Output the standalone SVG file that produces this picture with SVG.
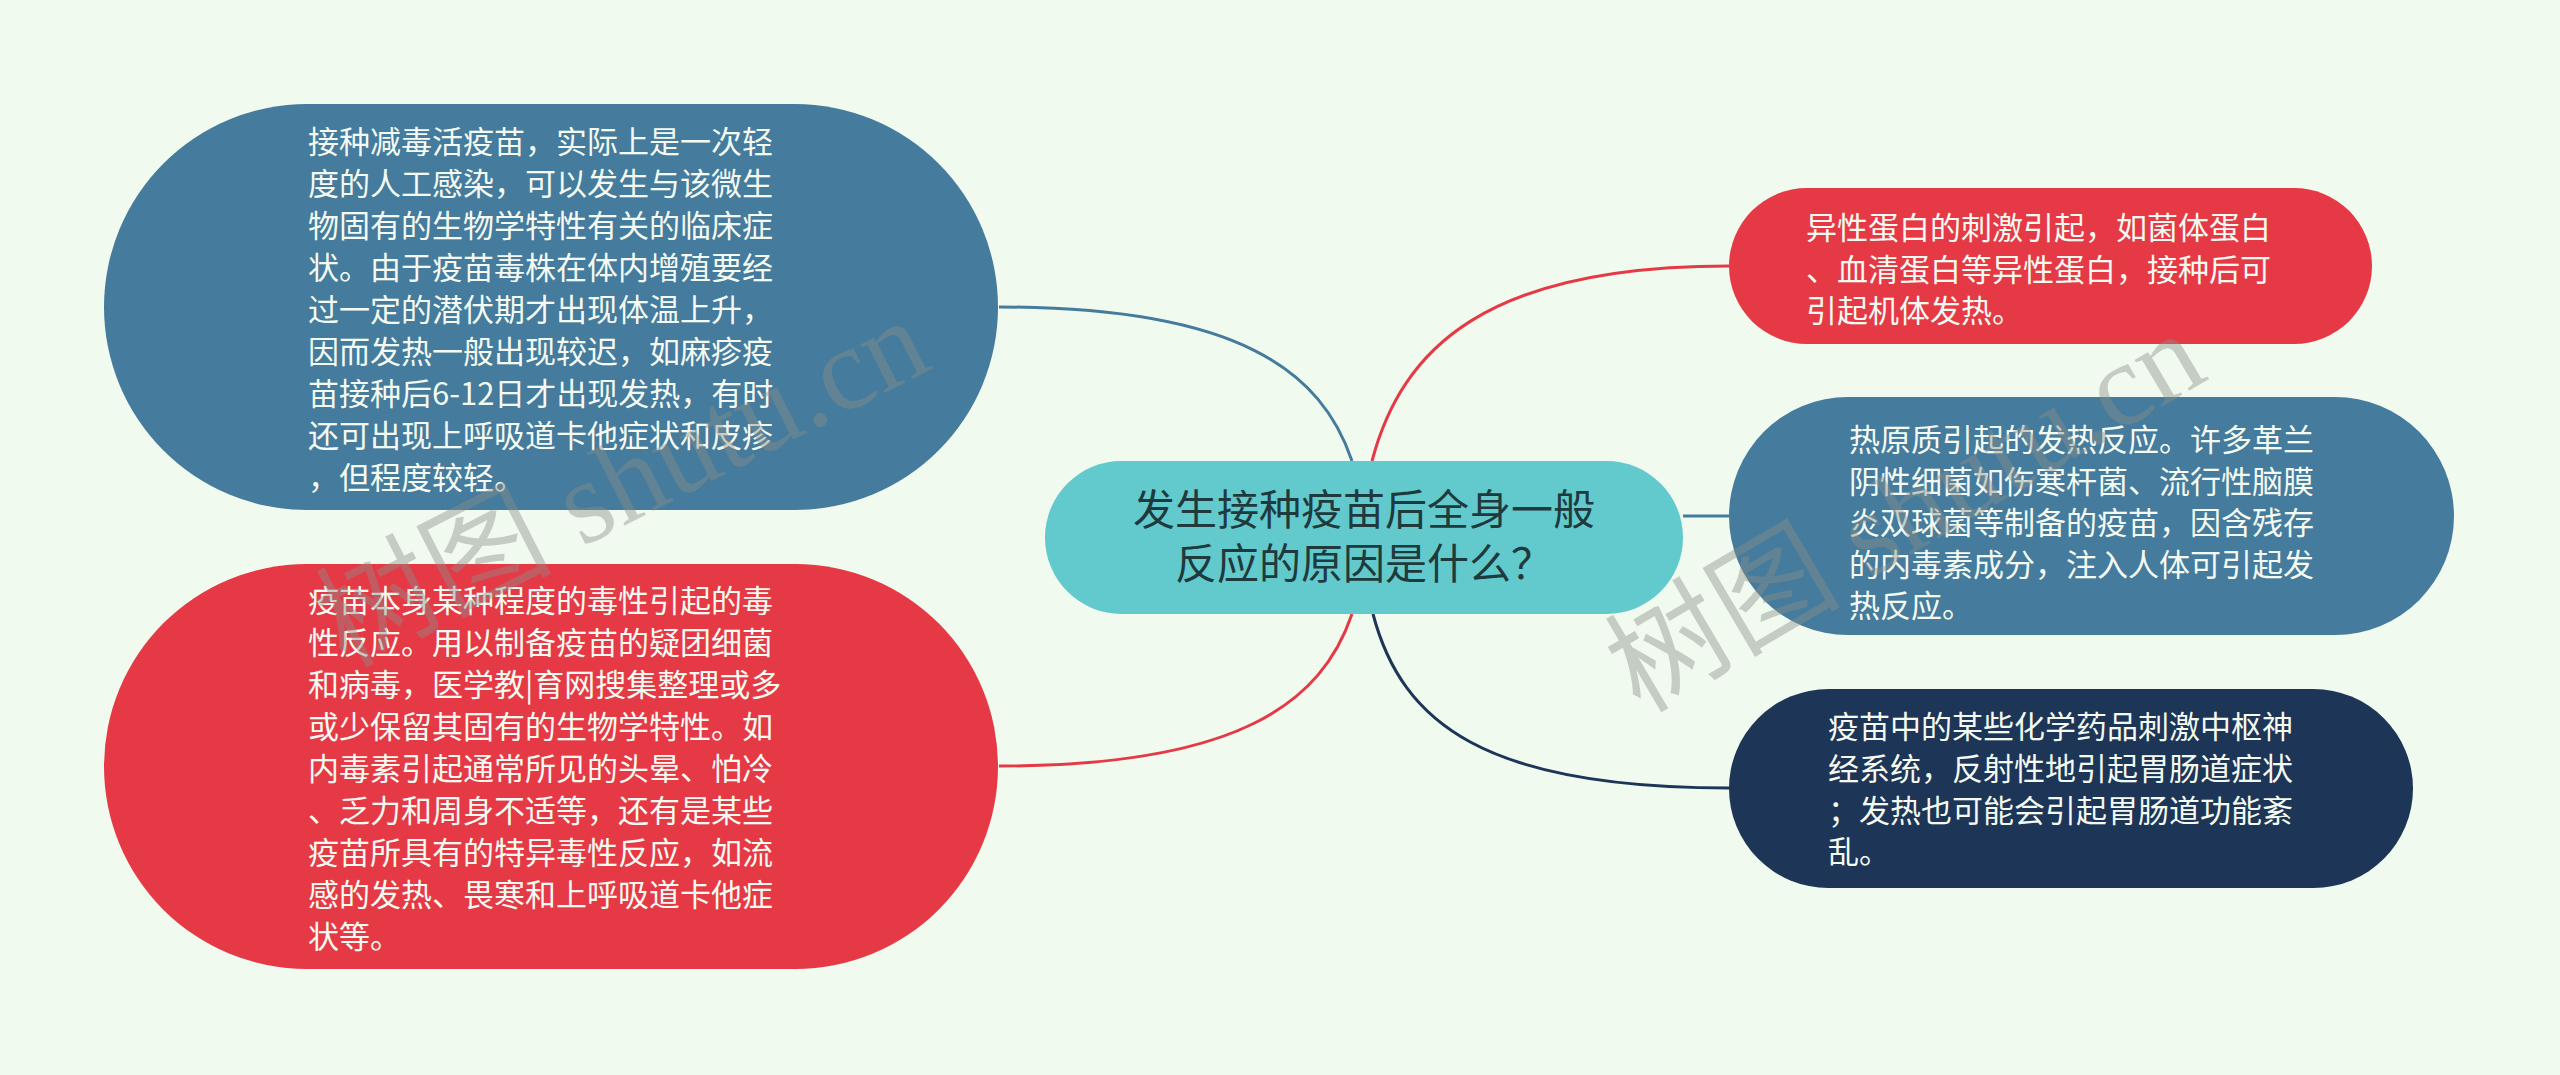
<svg xmlns="http://www.w3.org/2000/svg" width="2560" height="1075" viewBox="0 0 2560 1075">
<style>
.bg{fill:#f1faee}
.t{font-family:"Noto Sans CJK SC","Noto Sans",sans-serif;font-size:31px;fill:#f4faf1}
.ct{font-family:"Noto Sans CJK SC","Noto Sans",sans-serif;font-size:42px;fill:#1f3a3c;text-anchor:middle}
.ln{fill:none;stroke-width:3}
.wm{font-family:"Liberation Serif","Noto Sans CJK SC",serif;font-size:118px;fill:#8a8f8a;opacity:0.42}
</style>
<rect class="bg" x="0" y="0" width="2560" height="1075"/>
<g id="connectors">
<path class="ln" stroke="#457b9d" d="M999,307 C1240,307 1322,372 1352,461"/>
<path class="ln" stroke="#e63946" d="M1729,266 C1486,266 1402,348 1372,461"/>
<path class="ln" stroke="#e63946" d="M999,766 C1240,766 1322,702 1352,614"/>
<path class="ln" stroke="#1d3557" d="M1729,788 C1486,788 1402,724 1373,614"/>
<path class="ln" stroke="#457b9d" d="M1683,516 L1729,516"/>
</g>
<g id="center">
<rect x="1045" y="461" width="638" height="153" rx="76.5" fill="#62c9cc"/>
<text class="ct" x="1364" y="525">发生接种疫苗后全身一般</text>
<text class="ct" x="1364" y="579">反应的原因是什么？</text>
</g>
<g id="node-left-1">
<rect x="104" y="104" width="894" height="406" rx="203" fill="#457b9d"/>
<text class="t" x="308" y="153">接种减毒活疫苗，实际上是一次轻</text>
<text class="t" x="308" y="195">度的人工感染，可以发生与该微生</text>
<text class="t" x="308" y="237">物固有的生物学特性有关的临床症</text>
<text class="t" x="308" y="279">状。由于疫苗毒株在体内增殖要经</text>
<text class="t" x="308" y="321">过一定的潜伏期才出现体温上升，</text>
<text class="t" x="308" y="363">因而发热一般出现较迟，如麻疹疫</text>
<text class="t" x="308" y="405">苗接种后6-12日才出现发热，有时</text>
<text class="t" x="308" y="447">还可出现上呼吸道卡他症状和皮疹</text>
<text class="t" x="308" y="489">，但程度较轻。</text>
</g>
<g id="node-left-2">
<rect x="104" y="564" width="894" height="405" rx="202.5" fill="#e63946"/>
<text class="t" x="308" y="612">疫苗本身某种程度的毒性引起的毒</text>
<text class="t" x="308" y="654">性反应。用以制备疫苗的疑团细菌</text>
<text class="t" x="308" y="696">和病毒，医学教|育网搜集整理或多</text>
<text class="t" x="308" y="738">或少保留其固有的生物学特性。如</text>
<text class="t" x="308" y="780">内毒素引起通常所见的头晕、怕冷</text>
<text class="t" x="308" y="822">、乏力和周身不适等，还有是某些</text>
<text class="t" x="308" y="864">疫苗所具有的特异毒性反应，如流</text>
<text class="t" x="308" y="906">感的发热、畏寒和上呼吸道卡他症</text>
<text class="t" x="308" y="948">状等。</text>
</g>
<g id="node-right-1">
<rect x="1729" y="188" width="643" height="156" rx="78" fill="#e63946"/>
<text class="t" x="1806" y="239">异性蛋白的刺激引起，如菌体蛋白</text>
<text class="t" x="1806" y="280.5">、血清蛋白等异性蛋白，接种后可</text>
<text class="t" x="1806" y="322">引起机体发热。</text>
</g>
<g id="node-right-2">
<rect x="1729" y="397" width="725" height="238" rx="119" fill="#457b9d"/>
<text class="t" x="1849" y="451">热原质引起的发热反应。许多革兰</text>
<text class="t" x="1849" y="492.5">阴性细菌如伤寒杆菌、流行性脑膜</text>
<text class="t" x="1849" y="534">炎双球菌等制备的疫苗，因含残存</text>
<text class="t" x="1849" y="575.5">的内毒素成分，注入人体可引起发</text>
<text class="t" x="1849" y="617">热反应。</text>
</g>
<g id="node-right-3">
<rect x="1729" y="689" width="684" height="199" rx="99.5" fill="#1d3557"/>
<text class="t" x="1828" y="738">疫苗中的某些化学药品刺激中枢神</text>
<text class="t" x="1828" y="780">经系统，反射性地引起胃肠道症状</text>
<text class="t" x="1828" y="821.5">；发热也可能会引起胃肠道功能紊</text>
<text class="t" x="1828" y="863">乱。</text>
</g>
<g id="watermarks">
<text class="wm" transform="translate(345,668) rotate(-27)">树图 shutu.cn</text>
<text class="wm" transform="translate(1640,714) rotate(-30.5)">树图 shutu.cn</text>
</g>
</svg>
